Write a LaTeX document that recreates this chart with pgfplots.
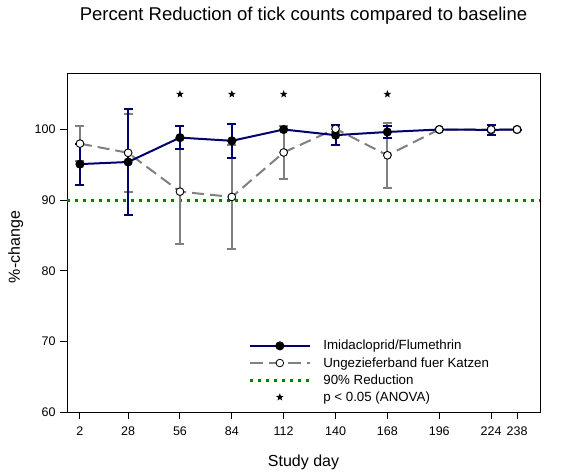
\documentclass[border=0pt]{standalone}
\usepackage{fontspec}
\setmainfont{Liberation Sans}
\usepackage{pgfplots}
\pgfplotsset{compat=1.18}

\definecolor{navy}{RGB}{0,0,110}
\definecolor{sgray}{RGB}{128,128,128}
\definecolor{sgreen}{RGB}{0,128,0}

\pgfdeclareplotmark{fstar}{%
  \pgfpathmoveto{\pgfpointpolar{90}{\pgfplotmarksize}}%
  \pgfpathlineto{\pgfpointpolar{126}{0.42\pgfplotmarksize}}%
  \pgfpathlineto{\pgfpointpolar{162}{\pgfplotmarksize}}%
  \pgfpathlineto{\pgfpointpolar{198}{0.42\pgfplotmarksize}}%
  \pgfpathlineto{\pgfpointpolar{234}{\pgfplotmarksize}}%
  \pgfpathlineto{\pgfpointpolar{270}{0.42\pgfplotmarksize}}%
  \pgfpathlineto{\pgfpointpolar{306}{\pgfplotmarksize}}%
  \pgfpathlineto{\pgfpointpolar{342}{0.42\pgfplotmarksize}}%
  \pgfpathlineto{\pgfpointpolar{18}{\pgfplotmarksize}}%
  \pgfpathlineto{\pgfpointpolar{54}{0.42\pgfplotmarksize}}%
  \pgfpathclose\pgfusepathqfill}

\pgfplotstableread{
day val err
2   95.1  2.9
28  95.4  7.5
56  98.85 1.65
84  98.4  2.4
112 100.0 0.0
140 99.2  1.45
168 99.65 0.8
196 100.0 0.0
224 99.95 0.7
238 100.0 0.0
}\imida

\pgfplotstableread{
day val err
2   98.0  2.5
28  96.7  5.5
56  91.2  7.4
84  90.45 7.4
112 96.75 3.75
140 100.1 0.4
168 96.35 4.6
196 100.0 0.0
224 100.0 0.0
238 100.0 0.0
}\unge

\pgfplotstableread{
day val
56  105
84  105
112 105
168 105
}\stars

\begin{document}
\begin{tikzpicture}
\path (-67pt,-60pt) rectangle (501pt,412pt);
\begin{axis}[
  at={(0pt,0pt)}, anchor=south west,
  scale only axis, width=473pt, height=339pt,
  xmin=-5, xmax=250.4, ymin=60, ymax=108,
  xtick={2,28,56,84,112,140,168,196,224,238},
  ytick={60,70,80,90,100},
  xtick pos=bottom, ytick pos=left,
  tick align=outside, major tick length=7pt,
  axis line style={line width=1pt},
  tick style={black, line width=1pt},
  ticklabel style={font=\fontsize{12.5}{12.5}\selectfont},
  xticklabel style={yshift=-4pt},
  yticklabel style={xshift=-1pt},
  /pgf/number format/assume math mode=true,
  clip=false,
  legend style={at={(0.383,0.218)}, anchor=north west, draw=none, fill=none,
    font=\fontsize{13.3}{13.3}\selectfont, row sep=2pt, inner sep=0pt,
    /tikz/every odd column/.append style={column sep=10pt}},
  legend cell align=left,
  legend image code/.code={%
    \draw[mark repeat=2,mark phase=2,#1] plot coordinates {(0pt,0pt) (30pt,0pt) (60pt,0pt)};},
]
\addplot[sgreen, line width=3pt, dash pattern=on 3pt off 5pt, forget plot]
  coordinates {(-5,90) (250.4,90)};
\addplot[forget plot, sgray, line width=2pt, dash pattern=on 12pt off 6pt,
  mark=*, mark size=3.8pt, mark options={solid, fill=white, draw=black, line width=0.8pt},
  error bars/.cd, y dir=both, y explicit,
  error bar style={sgray, line width=2pt, solid},
  error mark options={rotate=90, mark size=4.5pt, sgray, line width=2pt}]
  table[x=day, y=val, y error=err] {\unge};
\addplot[forget plot, navy, line width=2pt,
  mark=*, mark size=3.5pt, mark options={fill=black, draw=black},
  error bars/.cd, y dir=both, y explicit,
  error bar style={navy, line width=2pt},
  error mark options={rotate=90, mark size=4.5pt, navy, line width=2pt}]
  table[x=day, y=val, y error=err] {\imida};
\addplot[only marks, mark=*, mark size=3.8pt, mark options={fill=white, draw=black, line width=0.8pt}, forget plot]
  table[x=day, y=val] {\unge};
\addplot[only marks, mark=fstar, mark size=4pt, black, forget plot]
  table[x=day, y=val] {\stars};
\addlegendimage{navy, line width=2pt, mark=*, mark size=3.5pt, mark options={fill=black, draw=black}}
\addlegendentry{Imidacloprid/Flumethrin}
\addlegendimage{sgray, line width=2pt, dash pattern=on 13pt off 6pt, mark=*, mark size=3.8pt, mark options={solid, fill=white, draw=black, line width=0.8pt}}
\addlegendentry{Ungezieferband fuer Katzen}
\addlegendimage{sgreen, line width=3pt, dash pattern=on 3pt off 5pt}
\addlegendentry{90\% Reduction}
\addlegendimage{only marks, mark=fstar, mark size=4pt, black}
\addlegendentry{p < 0.05 (ANOVA)}
\end{axis}
\node[anchor=base, font=\fontsize{18.5}{18.5}\selectfont] at (236.5pt,391pt) {Percent Reduction of tick counts compared to baseline};
\node[anchor=base, font=\fontsize{16}{16}\selectfont] at (236.5pt,-54pt) {Study day};
\node[anchor=base, rotate=90, font=\fontsize{16}{16}\selectfont] at (-47pt,165pt) {\%-change};
\end{tikzpicture}
\end{document}
